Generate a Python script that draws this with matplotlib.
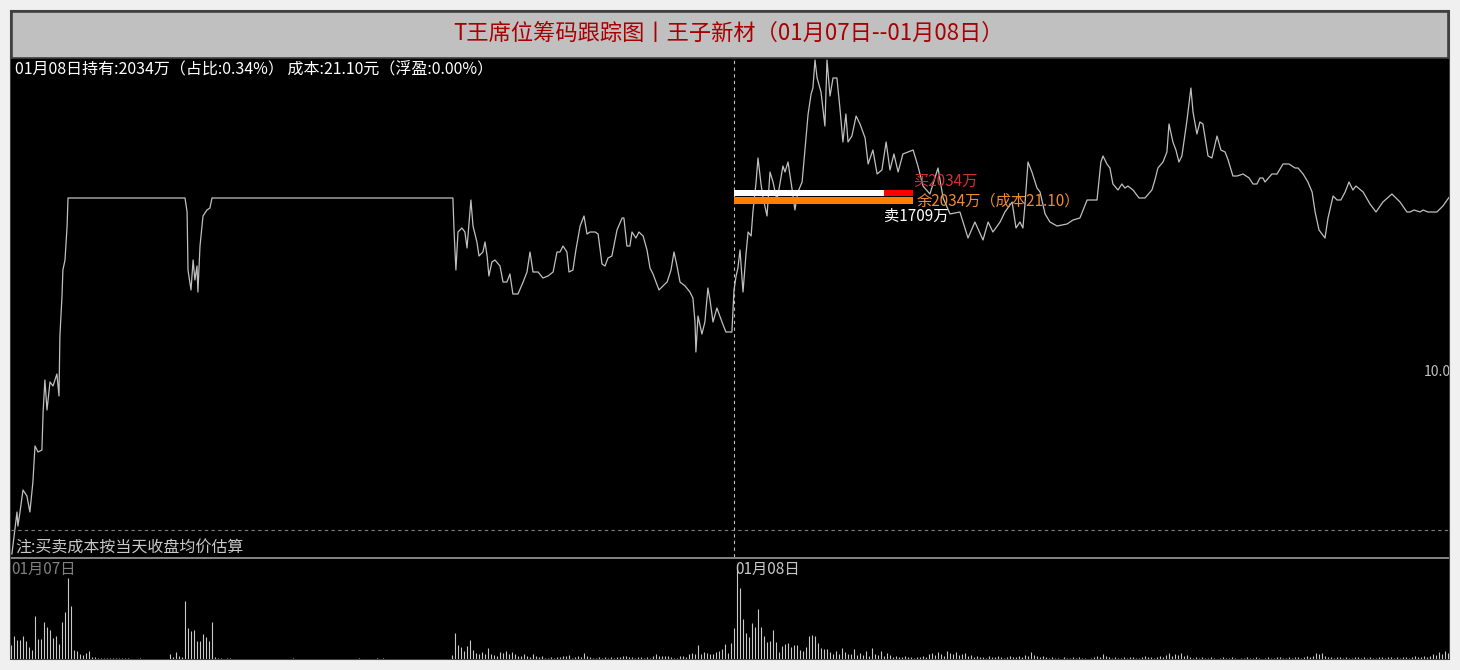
import matplotlib
matplotlib.use("Agg")
import matplotlib.pyplot as plt
from matplotlib.patches import Rectangle

plt.rcParams['font.family'] = ['Noto Sans CJK SC', 'DejaVu Sans']

# ---- data ----
title = "T王席位筹码跟踪图丨王子新材（01月07日--01月08日）"
info = "01月08日持有:2034万（占比:0.34%） 成本:21.10元（浮盈:0.00%）"
note = "注:买卖成本按当天收盘均价估算"
day_labels = ["01月07日", "01月08日"]
day_start = [0, 241]

# minute index (0..480 over two sessions) and price
t_min = [
    0.3, 2.0, 2.3, 3.0, 4.0, 5.3, 6.3, 7.3, 8.0, 9.0, 10.3, 10.7, 11.3, 12.0, 13.0, 14.0,
    15.3, 16.0, 16.3, 17.0, 17.3, 18.0, 18.7, 19.0, 58.0, 58.7, 59.0, 60.0, 60.7, 61.3,
    62.0, 62.3, 63.0, 64.0, 65.3, 66.3, 67.0, 147.3, 147.7, 148.3, 149.0, 150.3, 151.3,
    152.0, 153.3, 154.0, 155.3, 156.0, 157.3, 158.0, 158.7, 159.3, 160.3, 161.3, 163.0,
    164.0, 165.3, 166.3, 167.3, 169.0, 170.7, 172.0, 173.0, 174.0, 175.7, 177.3, 179.0,
    180.7, 182.0, 183.0, 184.0, 185.3, 186.0, 187.3, 188.3, 189.7, 191.0, 192.0, 193.0,
    194.7, 195.7, 197.0, 198.0, 199.0, 200.3, 202.0, 203.7, 204.3, 205.3, 206.3, 207.0,
    208.3, 209.3, 210.7, 212.0, 213.0, 214.0, 216.0, 217.3, 218.7, 220.0, 221.0, 222.0,
    223.0, 224.7, 226.3, 227.3, 228.0, 228.3, 229.0, 230.3, 231.3, 232.3, 233.0, 234.0,
    235.3, 237.0, 238.3, 240.3,
    241.0, 241.7, 242.3, 243.0, 244.0, 245.0, 245.7, 246.7, 247.3, 248.3, 249.0, 250.0,
    250.7, 252.0, 253.0, 254.0, 255.3, 256.3, 257.3, 258.0, 259.0, 260.3, 261.3, 262.3,
    263.7, 264.7, 265.7, 266.7, 267.3, 268.0, 268.7, 270.0, 271.3, 272.0, 273.0, 274.0,
    275.3, 276.3, 277.3, 278.3, 279.0, 280.3, 281.7, 283.0, 284.7, 285.7, 287.3, 288.7,
    290.3, 291.7, 293.0, 294.3, 295.7, 297.3, 299.0, 300.7, 302.3, 304.0, 306.3, 309.0,
    310.7, 313.0, 316.3, 319.0, 321.3, 324.0, 325.7, 327.3, 329.7, 331.3, 333.7, 335.0,
    336.3, 337.3, 338.0, 339.0, 340.3, 342.0, 343.0, 344.7, 346.3, 348.7, 352.0, 354.0,
    356.3, 358.7, 360.7, 362.0, 363.3, 364.0, 365.3, 366.3, 367.3, 369.0, 370.3, 371.3,
    372.3, 374.0, 376.0, 378.0, 380.3, 381.3, 382.3, 384.0, 385.3, 386.0, 387.3, 388.3,
    389.3, 390.3, 392.0, 393.3, 394.0, 395.3, 396.3, 397.3, 399.0, 400.3, 402.0, 403.3,
    404.7, 405.7, 407.3, 408.7, 410.7, 412.7, 414.0, 415.3, 416.3, 417.3, 418.0, 420.3,
    422.0, 424.0, 426.0, 428.0, 429.0, 430.7, 432.3, 433.7, 434.7, 436.0, 438.0, 439.0,
    440.7, 442.0, 443.3, 444.7, 446.0, 447.3, 448.3, 450.7, 453.0, 455.0, 457.3, 460.3,
    463.0, 465.3, 466.3, 467.7, 469.7, 470.7, 472.3, 475.3, 477.3, 478.7, 479.7,
]
price = [
    19.31, 19.52, 19.45, 19.52, 19.63, 19.60, 19.52, 19.67, 19.85, 19.82, 19.83, 20.02, 20.18, 20.03, 20.17, 20.15,
    20.21, 20.10, 20.40, 20.60, 20.73, 20.78, 20.95, 21.09, 21.09, 21.02, 20.73, 20.63, 20.78, 20.68,
    20.75, 20.62, 20.85, 21.00, 21.03, 21.04, 21.09, 21.09, 20.92, 20.73, 20.92, 20.94, 20.92,
    20.84, 21.08, 20.95, 20.87, 20.80, 20.82, 20.87, 20.80, 20.70, 20.77, 20.78, 20.75,
    20.67, 20.67, 20.71, 20.61, 20.61, 20.67, 20.72, 20.82, 20.72, 20.72, 20.69, 20.70,
    20.72, 20.82, 20.82, 20.85, 20.82, 20.72, 20.73, 20.83, 20.95, 21.00, 20.91, 20.92,
    20.92, 20.91, 20.76, 20.75, 20.79, 20.80, 20.93, 20.99, 20.99, 20.85, 20.85, 20.92,
    20.89, 20.92, 20.90, 20.83, 20.74, 20.71, 20.63, 20.65, 20.67, 20.73, 20.82, 20.75,
    20.67, 20.65, 20.62, 20.59, 20.47, 20.32, 20.50, 20.41, 20.47, 20.64, 20.58, 20.47,
    20.54, 20.47, 20.42, 20.42,
    20.63, 20.70, 20.74, 20.83, 20.62, 20.81, 20.92, 20.90, 21.02, 21.16, 21.29, 21.16,
    21.09, 21.00, 21.22, 21.17, 21.08, 21.16, 21.25, 21.22, 21.27, 21.14, 21.03, 21.12,
    21.17, 21.34, 21.51, 21.61, 21.64, 21.78, 21.69, 21.62, 21.45, 21.78, 21.60, 21.69,
    21.69, 21.54, 21.37, 21.51, 21.37, 21.40, 21.50, 21.46, 21.39, 21.26, 21.33, 21.21,
    21.23, 21.37, 21.23, 21.31, 21.22, 21.31, 21.32, 21.33, 21.25, 21.15, 21.11, 21.24,
    21.09, 21.01, 21.02, 20.89, 20.97, 20.88, 20.97, 20.92, 20.97, 21.02, 21.07, 20.94,
    20.97, 20.94, 21.06, 21.27, 21.22, 21.14, 21.12, 21.01, 20.97, 20.95, 20.96, 20.98,
    20.99, 21.08, 21.08, 21.08, 21.27, 21.30, 21.26, 21.24, 21.16, 21.13, 21.16, 21.14,
    21.15, 21.13, 21.09, 21.09, 21.13, 21.18, 21.24, 21.27, 21.32, 21.46, 21.37, 21.33,
    21.27, 21.30, 21.48, 21.64, 21.52, 21.41, 21.47, 21.46, 21.30, 21.29, 21.40, 21.33,
    21.32, 21.28, 21.20, 21.20, 21.21, 21.19, 21.16, 21.16, 21.19, 21.19, 21.17, 21.21,
    21.21, 21.26, 21.26, 21.24, 21.24, 21.21, 21.17, 21.12, 21.02, 20.93, 20.89, 20.99,
    21.10, 21.08, 21.08, 21.12, 21.17, 21.13, 21.15, 21.12, 21.06, 21.02, 21.07, 21.11,
    21.07, 21.02, 21.02, 21.03, 21.02, 21.03, 21.02, 21.02, 21.05, 21.08, 21.10,
]

# per-minute volume, day 1 (minutes 0..240) and day 2 (241..479)
vol_0107 = [
    14, 23, 19, 19, 23, 18, 12, 9, 43, 20, 20, 37, 32, 29, 21, 23, 15, 37, 47, 81,
    53, 9, 8, 5, 4, 6, 8, 2, 2, 1, 1, 1, 1, 1, 1, 1, 1, 1, 1, 1,
    0, 0, 0, 1, 0, 0, 0, 0, 0, 0, 0, 0, 0, 5, 2, 7, 3, 2, 58, 31,
    28, 29, 18, 18, 25, 22, 18, 37, 2, 1, 1, 0, 1, 1, 0, 0, 0, 0, 0, 0,
    0, 0, 0, 0, 0, 0, 0, 0, 0, 0, 0, 0, 0, 0, 1, 0, 0, 0, 0, 0,
    0, 0, 0, 0, 0, 0, 0, 0, 0, 0, 0, 0, 0, 0, 0, 0, 1, 0, 0, 0,
    0, 0, 1, 0, 1, 0, 0, 0, 0, 0, 0, 0, 0, 0, 0, 0, 0, 0, 0, 0,
    0, 0, 0, 0, 0, 0, 0, 4, 26, 14, 12, 8, 13, 19, 9, 6, 5, 7, 5, 11,
    5, 4, 3, 7, 6, 8, 5, 7, 5, 3, 3, 5, 3, 2, 5, 3, 2, 3, 1, 1,
    2, 1, 2, 2, 3, 3, 4, 1, 2, 3, 2, 6, 3, 2, 1, 1, 2, 1, 2, 1,
    2, 1, 2, 2, 3, 3, 2, 2, 1, 2, 2, 1, 2, 1, 3, 5, 3, 3, 3, 3,
    2, 1, 1, 3, 3, 2, 5, 6, 5, 14, 5, 7, 6, 5, 5, 7, 8, 10, 15, 6,
    16,
]
vol_0108 = [
    31, 95, 71, 40, 26, 22, 36, 32, 50, 32, 23, 17, 18, 29, 17, 7, 13, 15, 16, 12,
    14, 14, 9, 8, 12, 23, 24, 23, 16, 11, 10, 10, 7, 5, 8, 5, 11, 7, 5, 5,
    10, 4, 6, 4, 8, 3, 11, 5, 4, 8, 3, 6, 4, 2, 3, 2, 2, 3, 2, 2,
    1, 2, 2, 3, 2, 5, 6, 4, 7, 5, 3, 8, 6, 5, 7, 4, 5, 6, 3, 4,
    2, 3, 2, 2, 1, 3, 2, 2, 3, 2, 1, 2, 3, 2, 2, 3, 2, 4, 3, 7,
    4, 3, 2, 3, 2, 1, 2, 1, 1, 0, 2, 1, 1, 2, 1, 2, 1, 1, 0, 1,
    2, 3, 2, 5, 3, 2, 1, 2, 1, 1, 2, 1, 2, 2, 1, 1, 2, 3, 2, 2,
    1, 2, 3, 2, 4, 6, 3, 5, 4, 6, 3, 4, 2, 1, 2, 1, 2, 1, 1, 2,
    1, 0, 1, 2, 1, 1, 2, 1, 0, 1, 1, 2, 1, 1, 2, 1, 0, 1, 2, 1,
    1, 2, 2, 1, 1, 2, 1, 2, 2, 1, 2, 3, 2, 3, 6, 5, 6, 3, 2, 2,
    1, 2, 2, 1, 2, 1, 1, 2, 2, 1, 2, 1, 2, 1, 1, 2, 2, 1, 2, 2,
    1, 2, 1, 2, 2, 1, 2, 3, 2, 2, 3, 2, 3, 5, 4, 7, 5, 8, 6,
]

buy_amt = 2034     # 万
sell_amt = 1709    # 万
left_amt = 2034    # 万
cost = 21.10
ref_level = 19.43
right_label = "10.00"

# ---- layout (pixel based) ----
W, H = 1460, 670
def fx(px):
    return px / W
def fy(py):
    return 1 - py / H

fig = plt.figure(figsize=(14.6, 6.7), dpi=100, facecolor='#f0f0f0')

# black frame + grey title band
fig.patches.append(Rectangle((fx(11), fy(659)), fx(1438), 648 / H, transform=fig.transFigure,
                             facecolor='black', edgecolor='#404040', lw=1.5, zorder=-2))
fig.patches.append(Rectangle((fx(12), fy(58)), fx(1436), 46 / H, transform=fig.transFigure,
                             facecolor='#c0c0c0', edgecolor='#404040', lw=1.2, zorder=-1))
fig.text(fx(729), fy(33), title, ha='center', va='center', color='#a80000', fontsize=16)

# price panel
ax = fig.add_axes([fx(11), fy(557), fx(1438), 498 / H])
ax.set_facecolor('black')
ax.plot(t_min, price, color='#c0c0c0', lw=0.9)
ax.axhline(ref_level, color='#808080', ls=(0, (3, 3)), lw=0.8)
ax.axvline(day_start[1], color='#c0c0c0', ls=(0, (3, 3)), lw=0.8)

bar_scale = 59.7 / 2034   # minutes of x-axis per 万
x0 = day_start[1]
ax.barh(cost + 0.015, buy_amt * bar_scale, left=x0, height=0.032, color='#ff0000', zorder=3)
ax.barh(cost + 0.015, sell_amt * bar_scale, left=x0, height=0.032, color='white', zorder=4)
ax.barh(cost - 0.022, left_amt * bar_scale, left=x0, height=0.036, color='#ff8000', zorder=3)
ax.text(x0 + buy_amt * bar_scale, cost + 0.075, "买%d万" % buy_amt, color='#d03030',
        fontsize=11, ha='left', va='center', zorder=5)
ax.text(x0 + left_amt * bar_scale + 1.2, cost - 0.025, "余%d万（成本%.2f）" % (left_amt, cost),
        color='#f08a30', fontsize=11, ha='left', va='center', zorder=5)
ax.text(x0 + sell_amt * bar_scale, cost - 0.1, "卖%d万" % sell_amt, color='white',
        fontsize=11, ha='left', va='center', zorder=5)
ax.text(471, 20.22, right_label, color='#c0c0c0', fontsize=10, ha='left', va='center',
        clip_on=True)

ax.set_xlim(0, 479.33)
ax.set_ylim(19.295, 21.785)
ax.set_xticks([])
ax.set_yticks([])
for s in ax.spines.values():
    s.set_visible(False)

fig.text(fx(15), fy(69), info, color='white', fontsize=11.5, ha='left', va='center')
fig.text(fx(15), fy(548), note, color='#c8c8c8', fontsize=11.5, ha='left', va='center')

# separator
fig.patches.append(Rectangle((fx(11), fy(559)), fx(1438), 2.5 / H, transform=fig.transFigure,
                             facecolor='#808080', edgecolor='none', zorder=2))

# volume panel
volume = vol_0107 + vol_0108
vax = fig.add_axes([fx(11), fy(659), fx(1438), 100 / H])
vax.set_facecolor('black')
vax.vlines(range(len(volume)), 0, volume, color='#c8c8c8', lw=0.8)
vax.text(day_start[0], 98, day_labels[0], color='#808080', fontsize=11, ha='left', va='top')
vax.text(day_start[1] + 0.3, 98, day_labels[1], color='#c8c8c8', fontsize=11, ha='left', va='top')
vax.set_xlim(0, 479.33)
vax.set_ylim(0, 100)
vax.set_xticks([])
vax.set_yticks([])
for s in vax.spines.values():
    s.set_visible(False)

fig.savefig('out.png', dpi=100, facecolor=fig.get_facecolor())
